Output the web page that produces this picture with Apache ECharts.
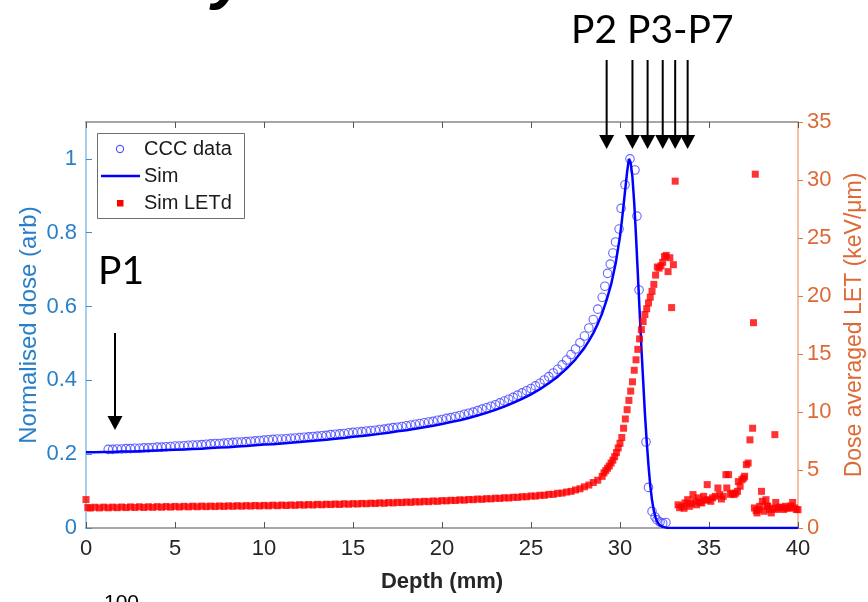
<!DOCTYPE html>
<html><head><meta charset="utf-8">
<script src="https://cdn.jsdelivr.net/npm/echarts@6/dist/echarts.min.js"></script>
<style>html,body{margin:0;padding:0;background:#fff}#c{width:868px;height:602px}</style>
</head><body><div id="c"></div>
<script>
// ---- data (depth mm, value) ----
const xTicks = [0,5,10,15,20,25,30,35,40];
const leftTicks = [0,0.2,0.4,0.6,0.8,1];
const rightTicks = [0,5,10,15,20,25,30,35];

const cccData = [
[1.25,.213],[1.5,.213],[1.75,.214],[2,.214],[2.25,.215],[2.5,.215],[2.75,.216],[3,.216],[3.25,.217],[3.5,.217],[3.75,.218],[4,.219],
[4.25,.219],[4.5,.220],[4.75,.221],[5,.222],[5.25,.222],[5.5,.223],[5.75,.224],[6,.225],[6.25,.225],[6.5,.226],[6.75,.227],[7,.228],
[7.25,.229],[7.5,.229],[7.75,.230],[8,.231],[8.25,.232],[8.5,.233],[8.75,.233],[9,.234],[9.25,.235],[9.5,.236],[9.75,.237],[10,.238],
[10.25,.239],[10.5,.240],[10.75,.241],[11,.241],[11.25,.242],[11.5,.243],[11.75,.244],[12,.245],[12.25,.246],[12.5,.247],[12.75,.248],[13,.249],
[13.25,.250],[13.5,.251],[13.75,.253],[14,.254],[14.25,.255],[14.5,.256],[14.75,.258],[15,.259],[15.25,.260],[15.5,.261],[15.75,.263],[16,.264],
[16.25,.265],[16.5,.267],[16.75,.268],[17,.270],[17.25,.272],[17.5,.273],[17.75,.275],[18,.277],[18.25,.279],[18.5,.281],[18.75,.283],[19,.285],
[19.25,.287],[19.5,.289],[19.75,.292],[20,.294],[20.25,.297],[20.5,.299],[20.75,.302],[21,.305],[21.25,.308],[21.5,.311],[21.75,.314],[22,.318],
[22.25,.322],[22.5,.326],[22.75,.330],[23,.334],[23.25,.339],[23.5,.344],[23.75,.349],[24,.354],[24.25,.360],[24.5,.366],[24.75,.372],[25,.378],
[25.25,.385],[25.5,.392],[25.75,.401],[26,.410],[26.25,.420],[26.5,.430],[26.75,.442],[27,.455],[27.25,.470],[27.5,.485],[27.75,.502],[28,.520],
[28.25,.542],[28.5,.565],[28.75,.593],[29,.625],
[29.15,.655],[29.3,.69],[29.45,.715],[29.6,.745],[29.75,.775],[29.95,.81],[30.06,.866],[30.28,.93],[30.56,1.0],[30.84,.97],[30.95,.845],
[31.07,.645],[31.46,.233],[31.6,.11],[31.8,.045],[31.97,.03],[32.08,.022],[32.25,.016],[32.4,.013],[32.58,.015]
];

const simData = [
[0,.205],[0.5,.205],[1,.206],[1.5,.206],[2,.207],[2.5,.207],[3,.208],[3.5,.209],[4,.210],[4.5,.211],[5,.212],[5.5,.213],[6,.214],[6.5,.215],
[7,.217],[7.5,.218],[8,.219],[8.5,.221],[9,.222],[9.5,.224],[10,.226],[10.5,.227],[11,.229],[11.5,.231],[12,.233],[12.5,.235],[13,.237],
[13.5,.239],[14,.242],[14.5,.244],[15,.247],[15.5,.249],[16,.252],[16.5,.255],[17,.258],[17.5,.262],[18,.265],[18.5,.269],[19,.273],
[19.5,.277],[20,.282],[20.5,.287],[21,.292],[21.5,.298],[22,.305],[22.5,.312],[23,.320],[23.5,.329],[24,.339],[24.5,.350],[25,.362],
[25.5,.376],[26,.392],[26.5,.410],[27,.432],[27.5,.457],[28,.488],[28.25,.507],[28.5,.528],[28.75,.553],[29,.582],[29.25,.618],[29.5,.660],
[29.75,.715],[30,.790],[30.1,.83],[30.2,.875],[30.3,.92],[30.4,.965],[30.5,1.0],[30.6,.99],[30.7,.95],[30.8,.88],[30.9,.79],[31,.69],
[31.1,.59],[31.2,.49],[31.3,.40],[31.4,.31],[31.5,.235],[31.6,.17],[31.7,.115],[31.8,.075],[31.9,.047],[32,.028],[32.1,.016],[32.2,.009],
[32.3,.005],[32.4,.003],[32.6,.001],[33,0],[40,0]
];

const letData = [
[0,2.45],[0.1,1.76],[0.25,1.72],[0.5,1.79],[0.75,1.73],[1,1.8],[1.25,1.74],[1.5,1.8],[1.75,1.75],[2,1.81],[2.25,1.76],[2.5,1.82],[2.75,1.77],
[3,1.83],[3.25,1.77],[3.5,1.83],[3.75,1.78],[4,1.84],[4.25,1.79],[4.5,1.85],[4.75,1.8],[5,1.86],[5.25,1.81],[5.5,1.87],[5.75,1.82],[6,1.88],
[6.25,1.83],[6.5,1.89],[6.75,1.84],[7,1.89],[7.25,1.85],[7.5,1.9],[7.75,1.86],[8,1.91],[8.25,1.87],[8.5,1.92],[8.75,1.88],[9,1.93],[9.25,1.89],
[9.5,1.94],[9.75,1.9],[10,1.95],[10.25,1.91],[10.5,1.97],[10.75,1.92],[11,1.98],[11.25,1.94],[11.5,1.99],[11.75,1.95],[12,2.01],[12.25,1.97],
[12.5,2.02],[12.75,1.98],[13,2.04],[13.25,2.0],[13.5,2.05],[13.75,2.02],[14,2.07],[14.25,2.03],[14.5,2.09],[14.75,2.05],[15,2.1],[15.25,2.07],
[15.5,2.12],[15.75,2.09],[16,2.14],[16.25,2.11],[16.5,2.17],[16.75,2.13],[17,2.19],[17.25,2.16],[17.5,2.21],[17.75,2.19],[18,2.24],[18.25,2.21],
[18.5,2.27],[18.75,2.24],[19,2.3],[19.25,2.27],[19.5,2.33],[19.75,2.3],[20,2.36],[20.25,2.34],[20.5,2.39],[20.75,2.37],[21,2.43],[21.25,2.4],
[21.5,2.46],[21.75,2.44],[22,2.5],[22.25,2.47],[22.5,2.53],[22.75,2.51],[23,2.57],[23.25,2.55],[23.5,2.61],[23.75,2.59],[24,2.65],[24.25,2.64],
[24.5,2.7],[24.75,2.69],[25,2.76],[25.25,2.75],[25.5,2.82],[25.75,2.82],[26,2.9],[26.25,2.9],[26.5,2.99],[26.75,3.01],[27,3.1],[27.25,3.16],
[27.5,3.28],[27.75,3.38],[28,3.55],[28.25,3.7],[28.5,3.92],[28.75,4.12],[29,4.45],
[29.1,4.75],[29.2,4.95],[29.3,5.15],[29.4,5.35],[29.5,5.6],[29.6,5.85],[29.7,6.15],[29.8,6.5],[29.9,6.9],[30,7.3],[30.1,7.8],[30.2,8.6],
[30.3,9.4],[30.4,10.2],[30.5,11.0],[30.6,11.8],[30.7,12.6],[30.8,13.6],[30.9,14.5],[31,15.4],[31.1,16.3],[31.2,17.1],[31.3,17.8],[31.4,18.4],
[31.5,18.9],[31.6,19.4],[31.7,19.9],[31.8,20.4],[31.9,21.0],[32,21.8],[32.1,22.5],[32.2,22.4],[32.3,22.6],[32.4,22.9],[32.5,23.4],[32.6,23.5],
[32.7,22.1],[32.8,23.3],[32.9,19.0],[33,22.7],[33.1,29.9],
[33.26,2.0],[33.35,1.75],[33.5,1.87],[33.6,1.7],[33.65,2.16],[33.8,2.44],[33.9,1.87],[34,2.1],[34.1,2.88],[34.2,2.3],[34.3,2.0],[34.4,2.6],
[34.5,2.2],[34.6,2.16],[34.7,2.73],[34.8,2.4],[34.9,3.74],[34.95,2.44],[35.1,2.3],[35.2,2.6],[35.35,2.73],[35.5,3.45],[35.6,2.88],[35.7,2.5],
[35.8,2.73],[35.95,4.6],[36,3.45],[36.1,4.6],[36.2,2.9],[36.3,3.0],[36.4,2.88],[36.5,3.0],[36.6,3.16],[36.65,4.0],[36.75,3.6],[36.85,4.17],
[36.95,4.3],[37,4.46],[37.1,5.46],[37.2,5.6],[37.3,7.6],[37.45,8.6],[37.5,17.7],[37.6,30.5],[37.55,1.73],[37.65,1.5],[37.7,1.3],[37.8,1.6],
[37.85,1.87],[37.95,3.16],[38,2.3],[38.1,1.44],[38.2,2.44],[38.25,1.9],[38.3,1.87],[38.4,1.6],[38.5,1.3],[38.6,1.7],[38.7,8.05],[38.75,2.2],
[38.8,1.6],[38.9,1.73],[39,1.8],[39.1,1.73],[39.2,1.6],[39.3,1.87],[39.4,1.7],[39.5,1.73],[39.6,1.9],[39.7,2.2],[39.8,1.73],[39.9,1.6],[40,1.58]
];

const legendNames = ['CCC data','Sim','Sim LETd'];
const p1Depth = 1.63;
const pDepths = [29.25, 30.7, 31.55, 32.4, 33.1, 33.8];

// ---- chart ----
const FONT = '"Liberation Sans", Arial, sans-serif';
const chart = echarts.init(document.getElementById('c'));
const grid = {left:86, right:70, top:122, bottom:74};
const xCommon = {type:'value', min:xTicks[0], max:xTicks[xTicks.length-1], interval:xTicks[1]-xTicks[0], splitLine:{show:false}};

chart.setOption({
  animation:false,
  backgroundColor:'#ffffff',
  grid:Object.assign({outerBoundsMode:'none', containLabel:false}, grid),
  xAxis:[
    Object.assign({}, xCommon, {position:'bottom',
      axisLine:{show:true, onZero:false, lineStyle:{color:'#8a8a8a', width:1.5}},
      axisTick:{show:true, inside:true, length:6, lineStyle:{color:'#555555', width:1}},
      axisLabel:{color:'#262626', fontSize:22, fontFamily:FONT, margin:10},
      name:'Depth (mm)', nameLocation:'middle', nameGap:43,
      nameTextStyle:{color:'#262626', fontSize:22, fontWeight:'bold', fontFamily:FONT}}),
    Object.assign({}, xCommon, {position:'top',
      axisLine:{show:true, onZero:false, lineStyle:{color:'#8a8a8a', width:1.5}},
      axisTick:{show:true, inside:true, length:6, lineStyle:{color:'#555555', width:1}},
      axisLabel:{show:false}})
  ],
  yAxis:[
    {type:'value', min:leftTicks[0], max:1.1, interval:leftTicks[1]-leftTicks[0], position:'left',
     splitLine:{show:false},
     axisLine:{show:true, onZero:false, lineStyle:{color:'#86bde8', width:1.5}},
     axisTick:{show:true, inside:true, length:6, lineStyle:{color:'#3b8fd6'}},
     axisLabel:{color:'#2a80c8', fontSize:22, fontFamily:FONT, margin:9, showMaxLabel:false},
     name:'Normalised dose (arb)', nameLocation:'middle', nameGap:45, nameMoveOverlap:false,
     nameTextStyle:{color:'#2a80c8', fontSize:24, fontFamily:FONT}},
    {type:'value', min:rightTicks[0], max:rightTicks[rightTicks.length-1], interval:rightTicks[1]-rightTicks[0], position:'right',
     splitLine:{show:false},
     axisLine:{show:true, onZero:false, lineStyle:{color:'#f0ac88', width:1.5}},
     axisTick:{show:true, inside:false, length:5, lineStyle:{color:'#e07a48'}},
     axisLabel:{color:'#dd6a35', fontSize:22, fontFamily:FONT, margin:9},
     name:'Dose averaged LET (keV/\u03bcm)', nameLocation:'middle', nameGap:45, nameRotate:90,
     nameTextStyle:{color:'#dd6a35', fontSize:23, fontFamily:FONT}}
  ],
  series:[
    {name:legendNames[0], type:'scatter', data:cccData, symbol:'circle', symbolSize:8.5, z:2,
     itemStyle:{color:'rgba(0,0,0,0)', borderColor:'#4b4bff', borderWidth:1.1, opacity:0.85}, silent:true},
    {name:legendNames[1], type:'line', data:simData, showSymbol:false, symbol:'none', z:3,
     lineStyle:{color:'#0000ff', width:2.5}, silent:true},
    {name:legendNames[2], type:'scatter', yAxisIndex:1, data:letData, symbol:'rect', symbolSize:7, z:4,
     itemStyle:{color:'#ff0000'}, silent:true}
  ]
});

// ---- annotations & legend ----
function arrow(x, yTop, tip){
  return [
    {type:'line', shape:{x1:x, y1:yTop, x2:x, y2:tip-10}, style:{stroke:'#000', lineWidth:2}, z:20},
    {type:'polygon', shape:{points:[[x-7.5,tip-14],[x+7.5,tip-14],[x,tip]]}, style:{fill:'#000'}, z:20}
  ];
}
const px = d => chart.convertToPixel({xAxisIndex:0}, d);
let g = [];
g = g.concat(arrow(px(p1Depth), 333, 430));
pDepths.forEach(d => { g = g.concat(arrow(px(d), 60, 149)); });
const AF = '39px Lato, "Open Sans", sans-serif';
g.push({type:'text', x:98, y:252, style:{text:'P1', font:AF, fill:'#000', verticalAlign:'top'}, z:20});
g.push({type:'text', x:571, y:11, style:{text:'P2 P3-P7', font:AF, fill:'#000', verticalAlign:'top'}, z:20});
// cut-off text fragments at the picture edges
g.push({type:'text', x:212, y:-53, style:{text:'y', font:'italic bold 64px "Liberation Sans", Arial, sans-serif', fill:'#000', verticalAlign:'top', shadowColor:'rgba(0,0,0,0.45)', shadowBlur:3, shadowOffsetX:3, shadowOffsetY:3}, z:20});
g.push({type:'text', x:104, y:593, style:{text:'100', font:'21px "Liberation Sans", Arial, sans-serif', fill:'#000', verticalAlign:'top'}, z:20});
// legend box
const LF = '20px "Liberation Sans", Arial, sans-serif';
g.push({type:'rect', shape:{x:97.5, y:133.5, width:147, height:85}, style:{fill:'#fff', stroke:'#6e6e6e', lineWidth:1}, z:30});
g.push({type:'circle', shape:{cx:120, cy:149, r:3.6}, style:{fill:'none', stroke:'#5a5aff', lineWidth:1.2}, z:31});
g.push({type:'line', shape:{x1:101, y1:176, x2:140, y2:176}, style:{stroke:'#0000ff', lineWidth:2.5}, z:31});
g.push({type:'rect', shape:{x:117, y:200, width:6.5, height:6.5}, style:{fill:'#ff0000'}, z:31});
[[149, legendNames[0]],[176, legendNames[1]],[203.5, legendNames[2]]].forEach(([y,t]) => {
  g.push({type:'text', x:144, y:y, style:{text:t, font:LF, fill:'#1a1a1a', verticalAlign:'middle'}, z:31});
});
chart.setOption({graphic:{elements:g}});
</script>
</body></html>
